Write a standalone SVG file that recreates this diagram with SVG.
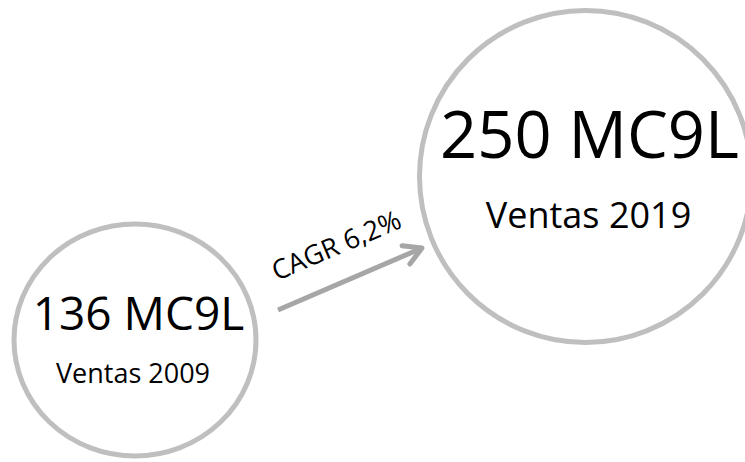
<svg xmlns="http://www.w3.org/2000/svg" width="745" height="462" viewBox="0 0 745 462">
<style>
.ring{fill:#ffffff;stroke:#bfbfbf;stroke-width:5}
.t{font-family:"Open Sans","Noto Sans",sans-serif;fill:#000;text-anchor:middle}
.conn{stroke:#a6a6a6;stroke-width:5;fill:none;stroke-linecap:butt}
</style>
<defs>
<marker id="chev" viewBox="0 0 10 10" refX="8" refY="5" markerWidth="5" markerHeight="5" markerUnits="strokeWidth" orient="auto">
<path d="M1,1 L8,5 L1,9" fill="none" stroke="#a6a6a6" stroke-width="2" stroke-linecap="round" stroke-linejoin="round"/>
</marker>
</defs>
<rect width="745" height="462" fill="#ffffff"/>
<g id="node-2009">
<ellipse class="ring" cx="135" cy="340" rx="121" ry="116"/>
<text class="t" x="138.5" y="330" font-size="46">136 MC9L</text>
<text class="t" x="133" y="383" font-size="27">Ventas 2009</text>
</g>
<g id="node-2019">
<circle class="ring" cx="585.5" cy="176.5" r="166"/>
<text class="t" x="589.5" y="158" font-size="65">250 MC9L</text>
<text class="t" x="588.5" y="228" font-size="36">Ventas 2019</text>
</g>
<g id="connectors">
<line class="conn" x1="278" y1="310" x2="422" y2="248" marker-end="url(#chev)"/>
<text class="t" x="340" y="254" font-size="27" transform="rotate(-23 340 254)">CAGR 6,2%</text>
</g>
</svg>
